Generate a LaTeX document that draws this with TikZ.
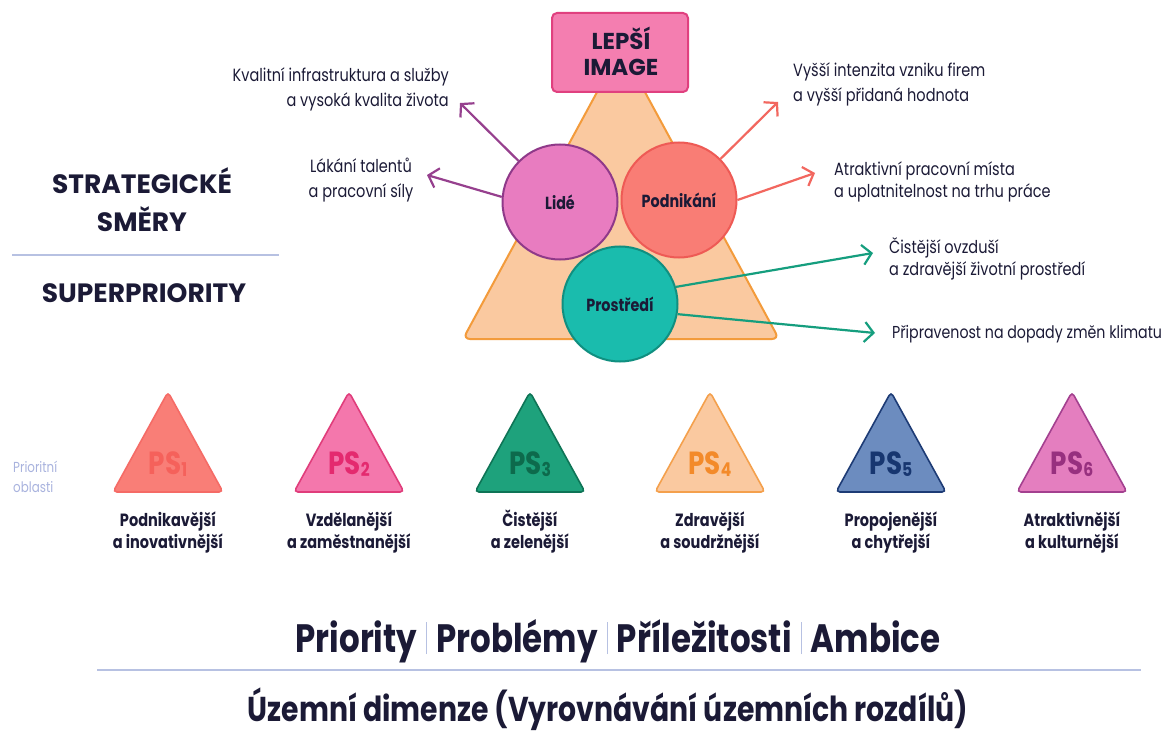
\documentclass[tikz,border=0pt]{standalone}
\usepackage{fontspec}
\setmainfont{Poppins}[FakeStretch=0.82]
\newfontfamily\widefont{Poppins}
\usetikzlibrary{arrows.meta}
\definecolor{navy}{HTML}{1B1A36}
\definecolor{sepc}{HTML}{B7C1E2}
\definecolor{prioC}{HTML}{A9B3DE}
\definecolor{lepsiF}{HTML}{F47EB0}
\definecolor{lepsiD}{HTML}{E0407F}
\definecolor{triF}{HTML}{FAC9A0}
\definecolor{triD}{HTML}{F39B3B}
\definecolor{lideF}{HTML}{E87CC0}
\definecolor{lideD}{HTML}{8F3989}
\definecolor{lideA}{HTML}{96408E}
\definecolor{podF}{HTML}{F97D75}
\definecolor{podD}{HTML}{EE5A55}
\definecolor{podA}{HTML}{F2675F}
\definecolor{proF}{HTML}{1ABCAD}
\definecolor{proD}{HTML}{108F80}
\definecolor{proA}{HTML}{159E7E}
\definecolor{psAf}{HTML}{F97E77}\definecolor{psAd}{HTML}{F56B66}\definecolor{psAt}{HTML}{F5615B}
\definecolor{psBf}{HTML}{F477AC}\definecolor{psBd}{HTML}{E03D7B}\definecolor{psBt}{HTML}{E42A6F}
\definecolor{psCf}{HTML}{1EA27C}\definecolor{psCd}{HTML}{0E7456}\definecolor{psCt}{HTML}{0D6A4C}
\definecolor{psDf}{HTML}{FAC9A0}\definecolor{psDd}{HTML}{F4A04C}\definecolor{psDt}{HTML}{F38A2A}
\definecolor{psEf}{HTML}{6C8CBF}\definecolor{psEd}{HTML}{1D3B75}\definecolor{psEt}{HTML}{173670}
\definecolor{psFf}{HTML}{E47EBF}\definecolor{psFd}{HTML}{A3408F}\definecolor{psFt}{HTML}{97307F}
\newcommand\lstackL[2]{\vtop{\hbox{#1}\hbox{#2}}}
\newcommand\lstackR[2]{\vtop{\halign{\hfil##\cr #1\cr #2\cr}}}
\newcommand\lstackC[2]{\vtop{\halign{\hfil##\hfil\cr #1\cr #2\cr}}}
\newcommand\vsepbar{\hspace{9pt}{\color{sepc}\rule[-2pt]{1.2pt}{32pt}}\hspace{9pt}}
\begin{document}
\begin{tikzpicture}[x=1pt,y=-1pt,
  txt/.style={inner sep=0pt, text=navy},
  body/.style={txt, font=\fontsize{17.7}{25}\selectfont},
  head/.style={txt, font=\widefont\fontsize{26.5}{37}\selectfont\bfseries},
  circ/.style={circle, minimum size=115pt, inner sep=0pt, line width=2pt, text=navy, font=\fontsize{17.5}{17.5}\selectfont\bfseries},
  arr/.style={line width=2.2pt, -{Straight Barb[length=9pt,width=20pt]}},
  sepline/.style={draw=sepc, line width=1.5pt}]
\useasboundingbox (0,0) rectangle (1163,733);
\fill[white] (0,0) rectangle (1163,733);

% big triangle
\draw[fill=triF, draw=triD, line width=2pt, rounded corners=7pt]
  (621,48) -- (779,339) -- (463,339) -- cycle;
% top box
\node[draw=lepsiD, fill=lepsiF, line width=2pt, rounded corners=5pt,
  minimum width=136pt, minimum height=79pt, inner sep=0pt] (lepsi) at (620,52.5) {};
\node[txt, anchor=base, font=\widefont\fontsize{23}{26}\selectfont\bfseries] (lepsiT) at (621,50)
  {\lstackC{LEPŠÍ}{IMAGE}};

% circles
\node[circ, fill=lideF, draw=lideD] (lide) at (560,202) {Lidé};
\node[circ, fill=podF, draw=podD] (pod) at (679,200) {Podnikání};
\node[circ, fill=proF, draw=proD] (pro) at (620,304) {Prostředí};

% arrow tips
\coordinate (tA) at (460,103);
\coordinate (tB) at (427,175);
\coordinate (tC) at (778,102);
\coordinate (tD) at (815,173);
\coordinate (tE) at (873,253);
\coordinate (tF) at (875,333);
\draw[arr, lideA] (lide) -- (tA);
\draw[arr, lideA] (lide.175) -- (tB);
\draw[arr, podA] (pod) -- (tC);
\draw[arr, podA] (pod.east) -- (tD);
\draw[arr, proA] (pro.17) -- (tE);
\draw[arr, proA] (pro.-10) -- (tF);

% labels around
\node[body, anchor=base east] (lA) at (449,82) {\lstackR{Kvalitní infrastruktura a služby}{a vysoká kvalita života}};
\node[body, anchor=base] (lB) at (361,173) {\lstackC{Lákání talentů}{a pracovní síly}};
\node[body, anchor=base west] (lC) at (793,77) {\lstackL{Vyšší intenzita vzniku firem}{a vyšší přidaná hodnota}};
\node[body, anchor=base west, font=\fontsize{17.7}{21}\selectfont] (lD) at (834,176) {\lstackL{Atraktivní pracovní místa}{a uplatnitelnost na trhu práce}};
\node[body, anchor=base west, font=\fontsize{17.7}{22}\selectfont] (lE) at (889,253) {\lstackL{Čistější ovzduší}{a zdravější životní prostředí}};
\node[body, anchor=base west, font=\fontsize{17.3}{22}\selectfont] (lF) at (892,338) {Připravenost na dopady změn klimatu};

% left headings
\node[head, anchor=base] (strat) at (142,194) {\lstackC{STRATEGICKÉ}{SMĚRY}};
\draw[sepline] (12,255) -- (279,255);
\node[head, anchor=base] (super) at (144,302) {SUPERPRIORITY};

% priority areas
\node[inner sep=0pt, text=prioC, anchor=base west, font=\fontsize{14.5}{20}\selectfont] (prio) at (13,472) {\lstackL{Prioritní}{oblasti}};
\foreach \i/\cx/\cl/\la/\lb in {1/168/psA/Podnikavější/a inovativnější,
  2/349/psB/Vzdělanější/a zaměstnanější,
  3/530/psC/Čistější/a zelenější,
  4/710/psD/Zdravější/a soudržnější,
  5/891/psE/Propojenější/a chytřejší,
  6/1072/psF/Atraktivnější/a kulturnější}{
  \draw[fill=\cl f, draw=\cl d, line width=1.6pt, rounded corners=4pt]
    (\cx,392) -- (\cx+55,492) -- (\cx-55,492) -- cycle;
  \node[inner sep=0pt, anchor=base, text=\cl t, font=\fontsize{32}{32}\selectfont\bfseries] (ps\i) at (\cx,474)
    {PS\raisebox{-2pt}{\fontsize{19}{19}\selectfont\i}};
  \node[txt, anchor=base, font=\fontsize{17.7}{22}\selectfont\bfseries] (lab\i) at (\cx,526) {\lstackC{\la}{\lb}};
}

% bottom
\node[txt, anchor=base, font=\fontsize{39.6}{40}\selectfont\bfseries] (pppa) at (618,652)
  {Priority\vsepbar Problémy\vsepbar Příležitosti\vsepbar Ambice};
\draw[sepline] (97,670) -- (1141,670);
\node[txt, anchor=base, font=\fontsize{34.5}{36}\selectfont\bfseries] (uzemi) at (608,721)
  {Územní dimenze (Vyrovnávání územních rozdílů)};
\end{tikzpicture}
\end{document}
